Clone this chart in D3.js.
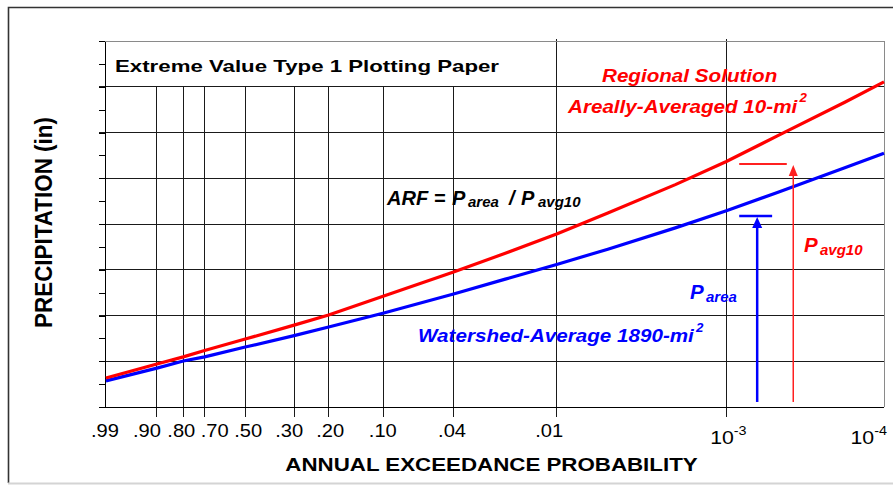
<!DOCTYPE html>
<html>
<head>
<meta charset="utf-8">
<script src="https://cdn.jsdelivr.net/npm/d3@7"></script>
<style>
  body { margin: 0; background: #fff; }
  text { font-family: Arial, "Liberation Sans", sans-serif; }
</style>
</head>
<body>
<div id="chart"></div>
<script>
// annual exceedance probabilities the curves were read at
const probs = [0.99, 0.9, 0.8, 0.7, 0.5, 0.3, 0.2, 0.1, 0.04, 0.02, 0.01, 0.005, 0.002, 0.001, 0.0005, 0.0002, 0.0001];
// Regional solution, areally-averaged 10 mi2 (relative precipitation units)
const regional = [1.27, 1.88, 2.19, 2.47, 2.97, 3.58, 4.02, 4.85, 5.90, 6.72, 7.56, 8.48, 9.72, 10.73, 11.85, 13.32, 14.21];
// Watershed-average 1890 mi2
const watershed = [1.14, 1.70, 2.01, 2.19, 2.62, 3.12, 3.50, 4.11, 4.94, 5.59, 6.23, 6.90, 7.83, 8.58, 9.38, 10.46, 11.09];

const tickProbs = [0.99, 0.9, 0.8, 0.7, 0.5, 0.3, 0.2, 0.1, 0.04, 0.01, 0.001, 0.0001];
const tickLabels = ['.99', '.90', '.80', '.70', '.50', '.30', '.20', '.10', '.04', '.01', '10^-3', '10^-4'];
const precipTicks = d3.range(0, 17);

// P_avg10 / P_area markers (probability, precipitation)
const avgMarker = { pBar: [8.4e-4, 4.4e-4], pArrow: 4.03e-4, v: 10.62 };
const areaMarker = { pBar: [8.4e-4, 5.37e-4], pArrow: 6.58e-4, v: 8.35 };

const width = 893, height = 485;
const mLeft = 105, mRight = 884, mTop = 41, mBottom = 407;
// labels on the original paper are hand-placed, not centred on the ticks
const labelNudge = [-1, -10, -2, 10, 3, -5, 1.5, -1, -1.5, -7.5, 2, 3];

// EV1 plotting paper: linear in the Gumbel reduced variate
const gumbel = p => -Math.log(-Math.log(1 - p));
const xu = d3.scaleLinear().domain([-1.54, 9.05]).range([mLeft, mRight]).clamp(true);
const x = p => xu(gumbel(p));
const y = d3.scaleLinear().domain([0, 16]).range([mBottom, mTop]);

const svg = d3.select('#chart').append('svg')
    .attr('width', width)
    .attr('height', height);

svg.append('rect').attr('width', width).attr('height', height).attr('fill', '#fff');

// outer frame
svg.append('path')
    .attr('d', 'M8.5,483 V7.5 H893')
    .attr('fill', 'none')
    .attr('stroke', '#333')
    .attr('stroke-width', 1.6);
svg.append('line')
    .attr('x1', 8).attr('x2', width).attr('y1', 483.5).attr('y2', 483.5)
    .attr('stroke', '#d4d4d4').attr('stroke-width', 2);

const grid = svg.append('g').attr('shape-rendering', 'crispEdges');

// horizontal major grid
grid.selectAll('.hgrid')
    .data(precipTicks.filter(v => v % 2 === 0 && v > 0 && v < 16))
  .enter().append('line')
    .attr('x1', mLeft - 6).attr('x2', mRight)
    .attr('y1', d => y(d)).attr('y2', d => y(d))
    .attr('stroke', '#1a1a1a');

// vertical grid (title band stays clear left of .01)
grid.selectAll('.vgrid')
    .data(tickProbs.slice(1, -1))
  .enter().append('line')
    .attr('x1', d => x(d)).attr('x2', d => x(d))
    .attr('y1', d => d < 0.02 ? mTop - 2 : y(14))
    .attr('y2', mBottom + 10)
    .attr('stroke', '#1a1a1a');

// plot border top/right
grid.append('line')
    .attr('x1', mLeft - 6).attr('x2', mRight).attr('y1', mTop).attr('y2', mTop)
    .attr('stroke', '#8a8a8a');
grid.append('line')
    .attr('x1', mRight).attr('x2', mRight).attr('y1', mTop).attr('y2', mBottom)
    .attr('stroke', '#8a8a8a');

// y axis: unlabeled ticks
const yAxis = svg.append('g')
    .attr('transform', 'translate(' + mLeft + ',0)')
    .attr('shape-rendering', 'crispEdges')
    .call(d3.axisLeft(y).tickValues(precipTicks).tickSize(6).tickSizeOuter(0).tickFormat(''));
yAxis.selectAll('path, line').attr('stroke', '#000');

// x axis line
grid.append('line')
    .attr('x1', mLeft - 6).attr('x2', mRight).attr('y1', mBottom).attr('y2', mBottom)
    .attr('stroke', '#000');

// x tick labels
const xl = svg.append('g').attr('font-size', 17.5).attr('fill', '#000');
tickProbs.forEach((p, i) => {
  const lab = tickLabels[i];
  const last = i === tickProbs.length - 1;
  const lx = x(p) + labelNudge[i];
  if (lab.indexOf('^') < 0) {
    xl.append('text')
        .attr('transform', 'translate(' + lx + ',437) scale(1.15,1)')
        .attr('text-anchor', 'middle')
        .text(lab);
  } else {
    const parts = lab.split('^');
    const t = xl.append('text')
        .attr('transform', 'translate(' + lx + ',444) scale(1.15,1)')
        .attr('text-anchor', last ? 'end' : 'middle')
        .attr('font-size', 18.5);
    t.append('tspan').text(parts[0]);
    t.append('tspan').attr('font-size', 12.5).attr('dy', -9).text(parts[1]);
  }
});

// curves
const line = d3.line()
    .x(d => x(d[0]))
    .y(d => y(d[1]));

svg.append('path')
    .datum(probs.map((p, i) => [p, watershed[i]]))
    .attr('d', line)
    .attr('fill', 'none')
    .attr('stroke', '#0000ff')
    .attr('stroke-width', 3.2);

svg.append('path')
    .datum(probs.map((p, i) => [p, regional[i]]))
    .attr('d', line)
    .attr('fill', 'none')
    .attr('stroke', '#ff0000')
    .attr('stroke-width', 3.2);

// marker bars + arrows
function marker(m, color, barW, shaftW, headW) {
  svg.append('line')
      .attr('x1', x(m.pBar[0])).attr('x2', x(m.pBar[1]))
      .attr('y1', y(m.v)).attr('y2', y(m.v))
      .attr('stroke', color).attr('stroke-width', barW);
  const ax = x(m.pArrow), tip = y(m.v) + 1;
  svg.append('line')
      .attr('x1', ax).attr('x2', ax)
      .attr('y1', y(0.22)).attr('y2', tip + 9)
      .attr('stroke', color).attr('stroke-width', shaftW);
  svg.append('path')
      .attr('d', 'M' + ax + ',' + tip + 'L' + (ax - headW / 2) + ',' + (tip + 11) + 'L' + (ax + headW / 2) + ',' + (tip + 11) + 'Z')
      .attr('fill', color);
}
marker(avgMarker, '#ff2020', 2, 1.5, 9);
marker(areaMarker, '#0000ff', 2.5, 2.5, 10);

// texts
function stext(tx, ty, sx, size, color, italic) {
  return svg.append('text')
      .attr('transform', 'translate(' + tx + ',' + ty + ') scale(' + sx + ',1)')
      .attr('font-size', size)
      .attr('font-weight', 'bold')
      .attr('font-style', italic ? 'italic' : 'normal')
      .attr('fill', color);
}

stext(115, 72, 1, 17, '#000', false)
    .attr('textLength', 384).attr('lengthAdjust', 'spacingAndGlyphs')
    .text('Extreme  Value Type 1  Plotting Paper');

stext(491.5, 470.5, 1.2, 18.6, '#000', false)
    .attr('text-anchor', 'middle')
    .text('ANNUAL EXCEEDANCE PROBABILITY');

svg.append('text')
    .attr('transform', 'translate(52,222.5) rotate(-90) scale(1.02,1.08)')
    .attr('text-anchor', 'middle')
    .attr('font-size', 22)
    .attr('font-weight', 'bold')
    .text('PRECIPITATION (in)');

stext(602, 82, 1.11, 18.6, '#ff0000', true).text('Regional Solution');

const t2 = stext(568, 113, 1.11, 18.6, '#ff0000', true);
t2.append('tspan').text('Areally-Averaged 10-mi');
t2.append('tspan').attr('font-size', 12).attr('dy', -11).attr('dx', 2).text('2');

const t3 = stext(418, 342, 1.11, 18.6, '#0000ff', true);
t3.append('tspan').text('Watershed-Average 1890-mi');
t3.append('tspan').attr('font-size', 12).attr('dy', -10.5).attr('dx', 2).text('2');

// ARF = P_area / P_avg10
const arf = svg.append('text')
    .attr('font-size', 20).attr('font-weight', 'bold').attr('font-style', 'italic').attr('fill', '#000');
arf.append('tspan').attr('x', 387).attr('y', 205).text('ARF = ');
arf.append('tspan').attr('x', 452).attr('y', 205).text('P');
arf.append('tspan').attr('x', 468).attr('y', 207).attr('font-size', 15).text('area');
arf.append('tspan').attr('x', 509).attr('y', 205).text('/');
arf.append('tspan').attr('x', 521).attr('y', 205).text('P');
arf.append('tspan').attr('x', 538).attr('y', 207).attr('font-size', 15).text('avg10');

const pa = svg.append('text')
    .attr('font-size', 20.5).attr('font-weight', 'bold').attr('font-style', 'italic').attr('fill', '#0000ff');
pa.append('tspan').attr('x', 690).attr('y', 299).text('P');
pa.append('tspan').attr('x', 706).attr('y', 302).attr('font-size', 15).text('area');

const pv = svg.append('text')
    .attr('font-size', 20.5).attr('font-weight', 'bold').attr('font-style', 'italic').attr('fill', '#ff0000');
pv.append('tspan').attr('x', 804).attr('y', 252).text('P');
pv.append('tspan').attr('x', 820).attr('y', 255).attr('font-size', 15).text('avg10');
</script>
</body>
</html>
